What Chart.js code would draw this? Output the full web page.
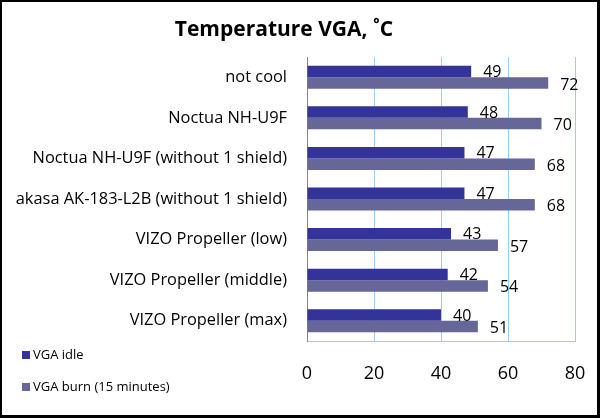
<!DOCTYPE html>
<html><head><meta charset="utf-8">
<script src="https://cdn.jsdelivr.net/npm/chart.js@4"></script>
<style>
html,body{margin:0;padding:0;background:#fff;}
#wrap{position:relative;width:600px;height:419px;overflow:hidden;}
#frame{position:absolute;left:0;top:0;width:595px;height:413px;border-style:solid;border-color:#000;border-width:2px 3px 3px 2px;pointer-events:none;}
canvas{position:absolute;left:0;top:0;}
</style></head><body>
<div id="wrap"><canvas id="c" width="600" height="419"></canvas><div id="frame"></div></div>
<script>
const chartTitle = 'Temperature VGA, \u02DAC';
const categories = ['not cool', 'Noctua NH-U9F', 'Noctua NH-U9F (without 1 shield)', 'akasa AK-183-L2B (without 1 shield)', 'VIZO Propeller (low)', 'VIZO Propeller (middle)', 'VIZO Propeller (max)'];
const seriesNames = ['VGA idle', 'VGA burn (15 minutes)'];
const idleValues = [49, 48, 47, 47, 43, 42, 40];
const burnValues = [72, 70, 68, 68, 57, 54, 51];
const xMin = 0, xMax = 80, xStep = 20;
const colors = ['#333399', '#666699'];

const FONT = '"Open Sans", sans-serif';

const titlePlugin = {
  id: 'customTitle',
  afterDraw(chart) {
    const ctx = chart.ctx;
    ctx.save();
    ctx.font = 'bold 21px ' + FONT;
    ctx.fillStyle = '#000';
    ctx.textAlign = 'center';
    ctx.textBaseline = 'middle';
    ctx.fillText(chartTitle, 284, 30);
    ctx.restore();
  }
};

const valueLabels = {
  id: 'valueLabels',
  afterDatasetsDraw(chart) {
    const ctx = chart.ctx;
    ctx.save();
    ctx.font = '16px ' + FONT;
    ctx.fillStyle = '#000';
    ctx.textAlign = 'left';
    ctx.textBaseline = 'middle';
    chart.data.datasets.forEach((ds, di) => {
      const meta = chart.getDatasetMeta(di);
      meta.data.forEach((el, i) => {
        ctx.fillText(String(ds.data[i]), el.x + 12, el.y + (di === 0 ? 1 : 2));
      });
    });
    ctx.restore();
  }
};

const legendPlugin = {
  id: 'customLegend',
  afterDraw(chart) {
    const ctx = chart.ctx;
    const ys = [355, 387];
    ctx.save();
    ctx.font = '13px ' + FONT;
    ctx.textAlign = 'left';
    ctx.textBaseline = 'middle';
    chart.data.datasets.forEach((ds, i) => {
      ctx.fillStyle = ds.backgroundColor;
      ctx.fillRect(22, ys[i] - 4, 8, 8);
      ctx.fillStyle = '#000';
      ctx.fillText(ds.label, 33, ys[i]);
    });
    ctx.restore();
  }
};

function build() {
  new Chart(document.getElementById('c'), {
    type: 'bar',
    data: {
      labels: categories,
      datasets: [
        { label: seriesNames[0], data: idleValues, backgroundColor: colors[0] },
        { label: seriesNames[1], data: burnValues, backgroundColor: colors[1] }
      ]
    },
    options: {
      indexAxis: 'y',
      responsive: false,
      animation: false,
      devicePixelRatio: 1,
      borderWidth: 0,
      datasets: { bar: { barPercentage: 1, categoryPercentage: 0.567, borderWidth: 0 } },
      layout: { padding: { top: 57, right: 25, left: 0, bottom: 0 } },
      plugins: { legend: { display: false }, title: { display: false }, tooltip: { enabled: false } },
      scales: {
        x: {
          min: xMin, max: xMax,
          ticks: { stepSize: xStep, color: '#000', font: { family: FONT, size: 18 }, padding: 22 },
          grid: { color: (c) => c.index === 0 ? 'rgba(0,0,0,0)' : '#99ccff', drawTicks: false },
          border: { color: '#99ccff' },
          afterFit(s) { s.height = 78; s.paddingLeft = 0; s.paddingRight = 0; }
        },
        y: {
          ticks: { color: '#000', font: { family: FONT, size: 16.4 }, padding: 20 },
          grid: { display: false, drawTicks: false },
          border: { color: '#868686' },
          afterFit(s) { s.width = 307; s.paddingTop = 0; s.paddingBottom = 0; }
        }
      }
    },
    plugins: [titlePlugin, valueLabels, legendPlugin]
  });
}
if (document.fonts && document.fonts.load) {
  Promise.all([document.fonts.load('14px "Open Sans"'), document.fonts.load('bold 18px "Open Sans"')]).then(build, build);
} else { build(); }
</script>
</body></html>
